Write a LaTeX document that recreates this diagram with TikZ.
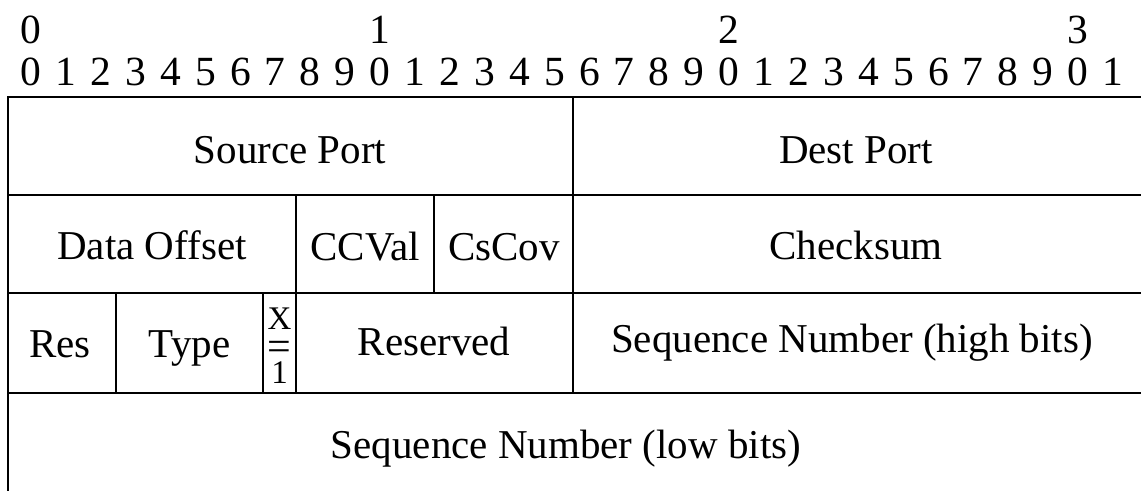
\documentclass[tikz,border=0pt]{standalone}
\usepackage{fontspec}
\setmainfont{Liberation Serif}
\begin{document}
\begin{tikzpicture}[x=1pt,y=-1pt,
  grid/.style={line width=2pt, black},
  field/.style={anchor=base, inner sep=0pt, font=\fontsize{41}{49}\selectfont},
  bitnum/.style={anchor=base, inner sep=0pt, font=\fontsize{41.5}{49}\selectfont},
  narrow/.style={anchor=base, inner sep=0pt, font=\fontsize{33}{40}\selectfont}]
\useasboundingbox (0,0) rectangle (1141,491);

% bit ruler: tens above, units below
\foreach \i in {0,...,31} {
  \pgfmathtruncatemacro{\d}{mod(\i,10)}
  \node[bitnum] (b\i) at ({31+34.9*\i},85) {\d};
}
\foreach \t in {0,1,2,3} {
  \node[bitnum] (m\t) at ({31+349*\t},43) {\t};
}

% header grid
\draw[grid] (1141,97) -- (8,97) -- (8,491);
\draw[grid] (8,195) -- (1141,195);
\draw[grid] (8,293) -- (1141,293);
\draw[grid] (8,393) -- (1141,393);
\draw[grid] (573,97) -- (573,393);
\draw[grid] (296,195) -- (296,393);
\draw[grid] (434,195) -- (434,293);
\draw[grid] (116,293) -- (116,393);
\draw[grid] (263,293) -- (263,393);

% word 0
\node[field] (srcport) at (290,163) {Source Port};
\node[field] (dstport) at (856,163) {Dest Port};
% word 1
\node[field] (doff) at (152,259) {Data Offset};
\node[field] (ccval) at (365,260) {CCVal};
\node[field] (cscov) at (504,260) {CsCov};
\node[field] (cksum) at (856,259) {Checksum};
% word 2
\node[field] (res) at (60,357) {Res};
\node[field] (type) at (189.5,357) {Type};
\node[narrow] (xbit) at (279.5,329) {X};
\node[narrow, font=\fontsize{42}{50}\selectfont] (xeq) at (279.5,360) {=};
\node[narrow] (xone) at (279.5,383) {1};
\node[field] (rsvd) at (434,355) {Reserved};
\node[field] (seqhi) at (852,352) {Sequence Number (high bits)};
% word 3
\node[field] (seqlo) at (566,458) {Sequence Number (low bits)};
\end{tikzpicture}
\end{document}
